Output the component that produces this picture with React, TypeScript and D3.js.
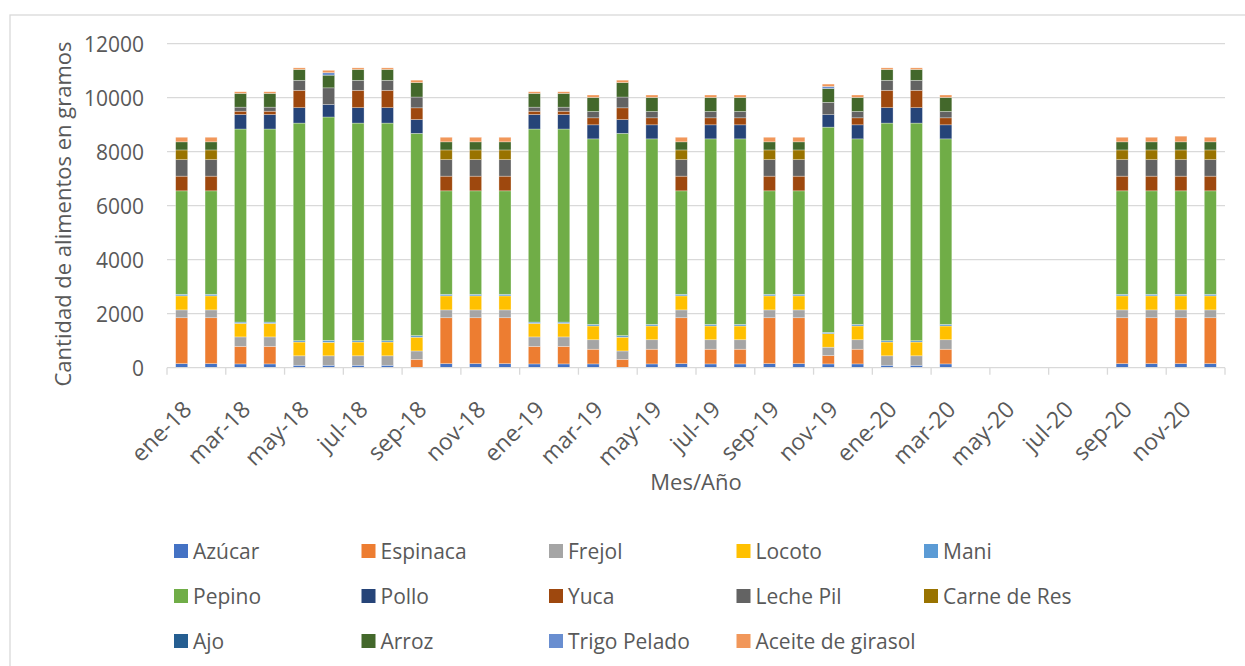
import React from 'react';
import * as d3 from 'd3';

// months ene-18 .. dic-20
const months = [
  'ene-18', 'feb-18', 'mar-18', 'abr-18', 'may-18', 'jun-18', 'jul-18', 'ago-18', 'sep-18', 'oct-18', 'nov-18', 'dic-18',
  'ene-19', 'feb-19', 'mar-19', 'abr-19', 'may-19', 'jun-19', 'jul-19', 'ago-19', 'sep-19', 'oct-19', 'nov-19', 'dic-19',
  'ene-20', 'feb-20', 'mar-20', 'abr-20', 'may-20', 'jun-20', 'jul-20', 'ago-20', 'sep-20', 'oct-20', 'nov-20', 'dic-20',
];

const foods = [
  'Azúcar', 'Espinaca', 'Frejol', 'Locoto', 'Mani', 'Pepino', 'Pollo', 'Yuca',
  'Leche Pil', 'Carne de Res', 'Ajo', 'Arroz', 'Trigo Pelado', 'Aceite de girasol',
];

const colors = [
  '#4472C4', '#ED7D31', '#A5A5A5', '#FFC000', '#5B9BD5', '#70AD47', '#264478', '#9E480E',
  '#636363', '#997300', '#255E91', '#43682B', '#698ED0', '#F1975A',
];

// grams per month
const azucar = [150, 150, 140, 140, 90, 90, 90, 90, 0, 150, 150, 150, 140, 140, 140, 0, 140, 150, 140, 140, 150, 150, 140, 140, 90, 90, 140, 0, 0, 0, 0, 0, 150, 150, 150, 150];
const espinaca = [1700, 1700, 650, 650, 0, 0, 0, 0, 310, 1700, 1700, 1700, 650, 650, 545, 310, 545, 1700, 545, 545, 1700, 1700, 310, 545, 0, 0, 545, 0, 0, 0, 0, 0, 1700, 1700, 1700, 1700];
const frejol = [290, 290, 350, 350, 350, 350, 350, 350, 310, 290, 290, 290, 350, 350, 350, 310, 350, 290, 350, 350, 290, 290, 310, 350, 350, 350, 350, 0, 0, 0, 0, 0, 290, 290, 290, 290];
const locoto = [520, 520, 500, 500, 510, 500, 510, 510, 510, 520, 520, 520, 500, 500, 510, 510, 510, 520, 510, 510, 520, 520, 500, 510, 510, 510, 510, 0, 0, 0, 0, 0, 520, 520, 520, 520];
const mani = [60, 60, 50, 50, 50, 75, 50, 50, 60, 60, 60, 60, 50, 50, 60, 60, 60, 60, 60, 60, 60, 60, 50, 60, 50, 50, 60, 0, 0, 0, 0, 0, 60, 60, 60, 60];
const pepino = [3830, 3830, 7150, 7150, 8060, 8270, 8060, 8060, 7490, 3830, 3830, 3830, 7150, 7150, 6870, 7490, 6870, 3830, 6870, 6870, 3830, 3830, 7600, 6870, 8060, 8060, 6870, 0, 0, 0, 0, 0, 3830, 3830, 3830, 3830];
const pollo = [0, 0, 535, 535, 570, 460, 570, 570, 510, 0, 0, 0, 535, 535, 520, 510, 520, 0, 520, 520, 0, 0, 460, 520, 570, 570, 520, 0, 0, 0, 0, 0, 0, 0, 0, 0];
const yuca = [545, 545, 125, 125, 645, 0, 645, 645, 435, 545, 545, 545, 125, 125, 260, 435, 260, 545, 260, 260, 545, 545, 0, 260, 645, 645, 260, 0, 0, 0, 0, 0, 545, 545, 545, 545];
const lechePil = [610, 610, 150, 150, 370, 620, 370, 370, 400, 610, 610, 610, 150, 150, 235, 400, 235, 610, 235, 235, 610, 610, 460, 235, 370, 370, 235, 0, 0, 0, 0, 0, 610, 610, 610, 610];
const carneRes = [360, 360, 0, 0, 0, 0, 0, 0, 0, 360, 360, 360, 0, 0, 0, 0, 0, 360, 0, 0, 360, 360, 0, 0, 0, 0, 0, 0, 0, 0, 0, 0, 360, 360, 360, 360];
const ajo = [0, 0, 0, 0, 0, 0, 0, 0, 0, 0, 0, 0, 0, 0, 0, 0, 0, 0, 0, 0, 0, 0, 0, 0, 0, 0, 0, 0, 0, 0, 0, 0, 0, 0, 0, 0];
const arroz = [300, 300, 510, 510, 400, 470, 400, 400, 535, 300, 300, 300, 510, 510, 520, 535, 520, 300, 520, 520, 300, 300, 510, 520, 400, 400, 520, 0, 0, 0, 0, 0, 300, 300, 300, 300];
const trigo = [0, 0, 0, 0, 0, 90, 0, 0, 0, 0, 0, 0, 0, 0, 0, 0, 0, 0, 0, 0, 0, 0, 75, 0, 0, 0, 0, 0, 0, 0, 0, 0, 0, 0, 0, 0];
const aceite = [170, 170, 60, 60, 60, 90, 60, 60, 90, 170, 170, 170, 60, 60, 90, 90, 90, 170, 90, 90, 170, 170, 90, 90, 60, 60, 90, 0, 0, 0, 0, 0, 170, 170, 210, 170];

const seriesValues = [azucar, espinaca, frejol, locoto, mani, pepino, pollo, yuca, lechePil, carneRes, ajo, arroz, trigo, aceite];
const yTicks = [0, 2000, 4000, 6000, 8000, 10000, 12000];

const W = 1245, H = 666;
const FONT = '"Open Sans", "Noto Sans", sans-serif';
const TEXT = '#595959';
const GRID = '#d9d9d9';

export default function App() {
  const rows = months.map((m, i) => {
    const r: Record<string, any> = { month: m };
    foods.forEach((f, k) => { r[f] = seriesValues[k][i]; });
    return r;
  });
  const stacked = d3.stack<any>().keys(foods)(rows);

  const x = d3.scaleBand<string>()
    .domain(months)
    .range([167, 1225])
    .paddingInner(0.59)
    .paddingOuter(0.295);
  const y = d3.scaleLinear().domain([0, 12000]).range([367.7, 43.7]);
  const step = x.step();
  const x0 = x.range()[0];

  return (
    <svg width={W} height={H} style={{ position: 'absolute', left: 0, top: 0, background: '#fff' }}
      fontFamily={FONT}>
      <rect x={10} y={15} width={W + 20} height={H + 20} fill="#fff" stroke={GRID} strokeWidth={1.3} />

      {/* gridlines + y labels */}
      {yTicks.map(t => (
        <g key={t}>
          {t > 0 && <line x1={167} x2={1225} y1={y(t)} y2={y(t)} stroke={GRID} strokeWidth={1.3} />}
          <text x={144} y={y(t)} textAnchor="end" dominantBaseline="central" fontSize={21} fill={TEXT}>{t}</text>
        </g>
      ))}

      {/* bars */}
      {stacked.map((s, k) => (
        <g key={s.key} fill={colors[k]}>
          {s.map((d, i) => (d[1] - d[0] > 0 ? (
            <rect key={i} x={x(months[i])} width={x.bandwidth()} y={y(d[1])} height={y(d[0]) - y(d[1])}
              stroke="#fff" strokeOpacity={0.5} strokeWidth={0.6} />
          ) : null))}
        </g>
      ))}

      {/* x axis */}
      <line x1={167} x2={1225} y1={y(0)} y2={y(0)} stroke={GRID} strokeWidth={1.3} />
      {d3.range(0, months.length + 1, 2).map(i => (
        <line key={i} x1={x0 + i * step} x2={x0 + i * step} y1={y(0)} y2={y(0) + 7} stroke={GRID} strokeWidth={1.3} />
      ))}
      {months.map((m, i) => (i % 2 === 0 ? (
        <text key={m} transform={`translate(${x(m)! + x.bandwidth() / 2 + 5},${y(0) + 37}) rotate(-45)`}
          textAnchor="end" dominantBaseline="central" fontSize={23} fill={TEXT}>{m}</text>
      ) : null))}

      {/* axis titles */}
      <text transform={`translate(62,214) rotate(-90)`} textAnchor="middle" dominantBaseline="central"
        fontSize={22} fill={TEXT}>Cantidad de alimentos en gramos</text>
      <text x={696} y={481} textAnchor="middle" dominantBaseline="central" fontSize={22} fill={TEXT}>Mes/Año</text>

      {/* legend */}
      {foods.map((f, k) => {
        const col = k % 5, row = Math.floor(k / 5);
        const lx = 174 + col * 187.5, ly = 551 + row * 45;
        return (
          <g key={f}>
            <rect x={lx} y={ly - 7} width={14} height={14} fill={colors[k]} />
            <text x={lx + 19} y={ly} dominantBaseline="central" fontSize={21} fill={TEXT}>{f}</text>
          </g>
        );
      })}
    </svg>
  );
}
